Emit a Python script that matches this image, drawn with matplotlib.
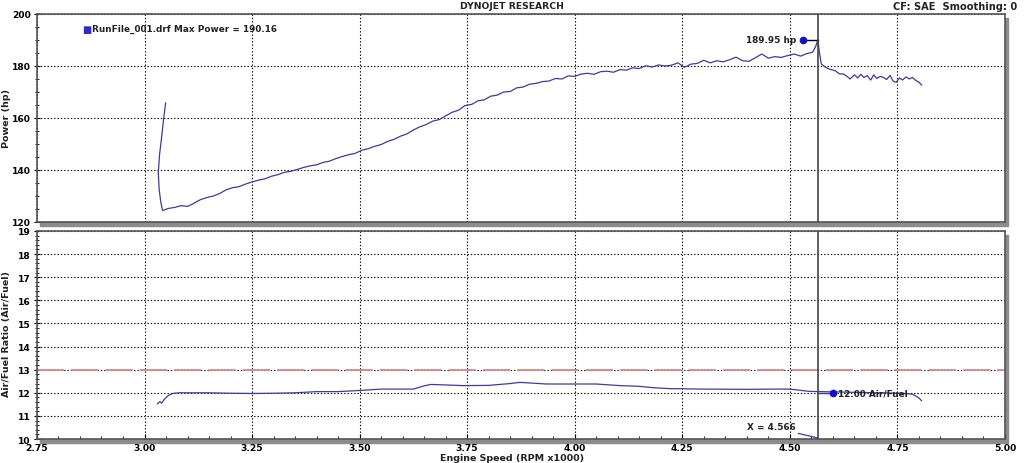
import matplotlib
matplotlib.use("Agg")
import matplotlib.pyplot as plt
from matplotlib.patches import Rectangle
from matplotlib.ticker import MultipleLocator, FormatStrFormatter

# power run (rpm x1000, hp)
pwr_rpm = [3.049, 3.045, 3.040, 3.035, 3.032, 3.034, 3.038, 3.042, 3.055, 3.070,
           3.085, 3.100, 3.115, 3.130, 3.145, 3.160, 3.175, 3.190, 3.205, 3.220,
           3.235, 3.250, 3.265, 3.280, 3.295, 3.310, 3.325, 3.340, 3.355, 3.370,
           3.385, 3.400, 3.415, 3.430, 3.445, 3.460, 3.475, 3.490, 3.505, 3.520,
           3.535, 3.550, 3.565, 3.580, 3.595, 3.610, 3.625, 3.640, 3.655, 3.670,
           3.685, 3.700, 3.715, 3.730, 3.745, 3.760, 3.775, 3.790, 3.805, 3.820,
           3.835, 3.850, 3.865, 3.880, 3.895, 3.910, 3.925, 3.940, 3.955, 3.970,
           3.985, 4.000, 4.015, 4.030, 4.045, 4.060, 4.075, 4.090, 4.105, 4.120,
           4.135, 4.150, 4.165, 4.180, 4.195, 4.210, 4.225, 4.240, 4.255, 4.270,
           4.285, 4.300, 4.315, 4.330, 4.345, 4.360, 4.375, 4.390, 4.405, 4.420,
           4.435, 4.450, 4.465, 4.480, 4.495, 4.510, 4.525, 4.540, 4.553, 4.560,
           4.565, 4.569, 4.573, 4.582, 4.592, 4.605, 4.615, 4.625, 4.633, 4.640,
           4.650, 4.658, 4.665, 4.672, 4.680, 4.688, 4.695, 4.702, 4.710, 4.718,
           4.725, 4.733, 4.740, 4.747, 4.755, 4.762, 4.770, 4.778, 4.785, 4.793,
           4.800, 4.806]
pwr_hp = [165.8, 160.5, 153.0, 146.0, 139.0, 132.5, 127.5, 124.4, 125.2, 125.6,
          126.3, 126.0, 127.2, 128.6, 129.4, 130.0, 131.0, 132.4, 133.2, 133.6,
          134.6, 135.4, 136.1, 136.6, 137.6, 138.2, 139.1, 139.5, 140.2, 141.0,
          141.6, 142.0, 142.9, 143.4, 144.4, 145.2, 145.9, 146.4, 147.6, 148.2,
          149.1, 149.8, 151.0, 151.8, 153.0, 153.9, 155.4, 156.6, 157.5, 158.8,
          159.4, 160.8, 162.2, 163.0, 164.8, 165.2, 166.6, 167.0, 168.4, 168.8,
          170.0, 170.2, 171.6, 171.9, 173.0, 173.3, 174.0, 174.2, 175.2, 175.0,
          176.2, 176.0, 176.9, 177.2, 176.8, 177.8, 178.0, 177.6, 178.6, 178.4,
          179.3, 179.0, 180.1, 179.6, 180.4, 180.0, 180.3, 181.2, 179.5, 180.7,
          181.0, 182.2, 181.2, 182.0, 181.6, 182.4, 183.4, 182.0, 181.8, 183.2,
          184.6, 183.0, 183.6, 183.3, 184.0, 184.6, 183.8, 184.8, 185.3, 187.5,
          190.0, 185.0, 180.8, 179.6, 178.8, 178.2, 177.0, 176.9, 176.0, 175.0,
          176.6, 175.4, 176.8, 175.6, 176.3, 174.6, 176.6, 175.2, 176.0, 175.6,
          174.8, 176.4, 174.2, 173.7, 175.4, 174.6, 175.8, 175.0, 175.6, 174.4,
          173.8, 172.7]

# air/fuel run
afr_rpm = [3.030, 3.036, 3.040, 3.046, 3.055, 3.065, 3.080, 3.100, 3.150, 3.200,
           3.250, 3.300, 3.350, 3.400, 3.450, 3.500, 3.550, 3.600, 3.625, 3.650,
           3.665, 3.700, 3.740, 3.800, 3.850, 3.872, 3.900, 3.934, 4.000, 4.050,
           4.105, 4.150, 4.182, 4.220, 4.300, 4.400, 4.460, 4.500, 4.546, 4.600,
           4.650, 4.700, 4.760, 4.785, 4.800, 4.806]
afr_val = [11.52, 11.62, 11.55, 11.72, 11.88, 11.97, 12.00, 12.00, 12.00, 11.98,
           11.97, 11.98, 12.00, 12.05, 12.05, 12.10, 12.16, 12.16, 12.16, 12.30,
           12.36, 12.34, 12.31, 12.32, 12.40, 12.45, 12.42, 12.38, 12.38, 12.38,
           12.31, 12.28, 12.22, 12.18, 12.16, 12.15, 12.16, 12.16, 12.06, 12.04,
           12.02, 12.00, 11.98, 11.94, 11.78, 11.66]

cursor_x = 4.566
peak_label = "189.95 hp"
afr_label = "12.00 Air/Fuel"
target_afr = 13.0

line_c = "#3c3ca0"
dot_c = "#1010c8"
txt_kw = dict(fontsize=6.4, fontweight="bold", color="#222222")

fig = plt.figure(figsize=(10.24, 4.64), dpi=100)
ax1 = fig.add_axes([0.0361, 0.5194, 0.9453, 0.4483])
ax2 = fig.add_axes([0.0361, 0.0517, 0.9453, 0.4483])

# drop shadows behind the panels
for ax in (ax1, ax2):
    p = ax.get_position()
    fig.patches.append(Rectangle((p.x0 + 0.003, p.y0 - 0.008), p.width, p.height,
                                 transform=fig.transFigure, color="#8c8c8c",
                                 zorder=-1))

for ax in (ax1, ax2):
    ax.set_xlim(2.75, 5.0)
    ax.xaxis.set_major_locator(MultipleLocator(0.25))
    ax.xaxis.set_minor_locator(MultipleLocator(0.05))
    ax.grid(True, which="major", color="black", linestyle=(0, (1.2, 1.8)), linewidth=0.8)
    for s in ax.spines.values():
        s.set_color("#555555")
        s.set_linewidth(1.2)
    ax.tick_params(axis="y", which="both", direction="inout", labelsize=6.6, pad=2)
    ax.tick_params(axis="y", which="major", length=5)
    ax.tick_params(axis="y", which="minor", length=3)
    ax.tick_params(axis="x", which="both", direction="in", labelsize=6.6, pad=3)
    ax.axvline(cursor_x, color="#444444", linewidth=1.2, zorder=3)

# --- power panel
ax1.plot(pwr_rpm, pwr_hp, color=line_c, linewidth=0.9)
ax1.set_ylim(120, 200)
ax1.yaxis.set_major_locator(MultipleLocator(20))
ax1.yaxis.set_minor_locator(MultipleLocator(5))
ax1.tick_params(axis="x", which="both", labelbottom=False, length=0)
ax1.plot([4.53, cursor_x], [190.0, 190.0], color="black", linewidth=1)
ax1.plot(4.53, 190.0, "o", color=dot_c, markersize=4.5)
ax1.text(4.515, 190.0, peak_label, ha="right", va="center", **txt_kw)
ax1.text(0.0465, 0.93, "\u25A0", transform=ax1.transAxes, color="#2a2ac8",
         fontsize=7, va="center", ha="left")
ax1.text(0.0565, 0.93, "RunFile_001.drf Max Power = 190.16", transform=ax1.transAxes,
         va="center", ha="left", **txt_kw)

# --- air/fuel panel
ax2.axhline(target_afr, color="#d48a8a", linewidth=1.3, dashes=(15, 4), zorder=2)
ax2.plot(afr_rpm, afr_val, color=line_c, linewidth=0.9)
ax2.set_ylim(10, 19)
ax2.yaxis.set_major_locator(MultipleLocator(1))
ax2.yaxis.set_minor_locator(MultipleLocator(0.2))
ax2.xaxis.set_major_formatter(FormatStrFormatter("%.2f"))
ax2.plot([cursor_x, 4.60], [12.0, 12.0], color=line_c, linewidth=1)
ax2.plot(4.60, 12.0, "o", color=dot_c, markersize=4.5)
ax2.text(4.612, 12.0, afr_label, ha="left", va="center", **txt_kw)
ax2.annotate("X = 4.566", xy=(cursor_x, 10.04), xytext=(4.513, 10.52),
             ha="right", va="center",
             arrowprops=dict(arrowstyle="-", color=line_c, linewidth=0.9,
                             shrinkA=0, shrinkB=0), **txt_kw)

for ax in (ax1, ax2):
    for lab in ax.get_yticklabels() + ax.get_xticklabels():
        lab.set_fontweight("bold")

lab_kw = dict(fontsize=6.8, fontweight="bold", color="#222222")
fig.text(0.0065, 0.745, "Power (hp)", rotation=90, ha="center", va="center", **lab_kw)
fig.text(0.0065, 0.28, "Air/Fuel Ratio (Air/Fuel)", rotation=90, ha="center",
         va="center", **lab_kw)
fig.text(0.5, 0.012, "Engine Speed (RPM x1000)", ha="center", va="center", **lab_kw)
fig.text(0.5, 0.985, "DYNOJET RESEARCH", ha="center", va="center",
         fontsize=6.7, fontweight="bold", color="#222222")
fig.text(0.993, 0.985, "CF: SAE  Smoothing: 0", ha="right", va="center",
         fontsize=7.1, fontweight="bold", color="#222222")

fig.savefig("out.png", dpi=100, facecolor="white")
